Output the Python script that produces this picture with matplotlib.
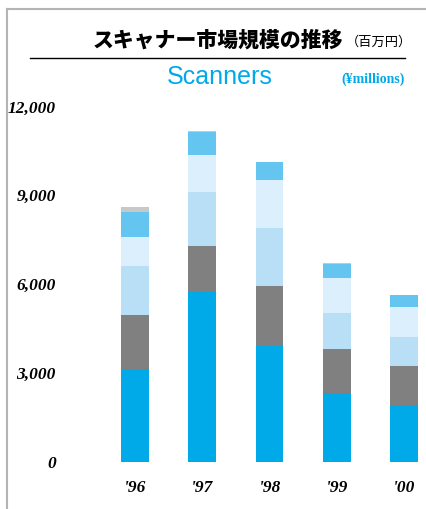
import matplotlib.pyplot as plt
import numpy as np
from matplotlib.lines import Line2D

# values (million yen), stacked bottom to top
years = ["'96", "'97", "'98", "'99", "'00"]
seg_blue = [3130, 5730, 3910, 2320, 1910]
seg_grey = [1820, 1570, 2010, 1480, 1320]
seg_light = [1660, 1820, 1990, 1210, 980]
seg_pale = [980, 1250, 1620, 1210, 1010]
seg_mid = [860, 780, 610, 470, 400]
seg_top = [170, 30, 0, 30, 0]
yticks = [0, 3000, 6000, 9000, 12000]

colors = ["#00a9e8", "#808080", "#b8dff6", "#dceffc", "#64c5f1", "#c8c8c8"]

W, H = 427, 509


def fx(px):
    return px / W


def fy(py):
    return 1 - py / H


def main():
    fig = plt.figure(figsize=(W / 100, H / 100), dpi=100)
    fig.patch.set_facecolor("white")

    # plot area in pixel terms
    left, right = 60, 427
    top, bottom = 106.5, 461.7
    ax = fig.add_axes([fx(left), fy(bottom), fx(right - left), (bottom - top) / H])

    x = np.arange(len(years))
    base = np.zeros(len(years))
    for vals, c in zip([seg_blue, seg_grey, seg_light, seg_pale, seg_mid, seg_top], colors):
        ax.bar(x, vals, bottom=base, width=0.416, color=c, linewidth=0)
        base += np.array(vals)

    ax.set_ylim(0, 12000)
    ax.set_xlim((left - 135) / 67.25, (right - 135) / 67.25)
    for s in ax.spines.values():
        s.set_visible(False)
    ax.set_yticks(yticks)
    ax.set_yticklabels([f"{v:,}" for v in yticks])
    ax.set_xticks(x)
    ax.set_xticklabels(years)
    ax.tick_params(length=0)
    ax.tick_params(axis="y", pad=3)
    ax.tick_params(axis="x", pad=13)
    for lab in ax.get_yticklabels() + ax.get_xticklabels():
        lab.set_fontfamily("Liberation Serif")
        lab.set_fontweight("bold")
        lab.set_fontstyle("italic")
        lab.set_fontsize(12.5)

    # frame lines and title underline
    fig.add_artist(Line2D([fx(7), fx(7)], [fy(9), 0], transform=fig.transFigure, color="#b4b4b4", lw=1.5))
    fig.add_artist(Line2D([fx(7), 1], [fy(9), fy(9)], transform=fig.transFigure, color="#b4b4b4", lw=1.5))
    fig.add_artist(Line2D([fx(30), fx(405)], [fy(58.3), fy(58.3)], transform=fig.transFigure, color="black", lw=1))

    fig.text(fx(343), fy(40), "スキャナー市場規模の推移", ha="right", va="center",
             fontsize=15, fontweight="heavy", family=["Noto Sans CJK JP", "DejaVu Sans"])
    fig.text(fx(346), fy(42), "（百万円）", ha="left", va="center",
             fontsize=9.5, family=["Noto Sans CJK JP", "DejaVu Sans"])
    fig.text(fx(220), fy(77), "Scanners", ha="center", va="center",
             fontsize=18, color="#00a9e8", family="Liberation Sans")
    fig.text(fx(405), fy(79), "(¥millions)", ha="right", va="center",
             fontsize=10, fontweight="bold", color="#00a9e8", family="Liberation Serif")

    plt.savefig("out.png", dpi=100)


if __name__ == "__main__":
    main()
